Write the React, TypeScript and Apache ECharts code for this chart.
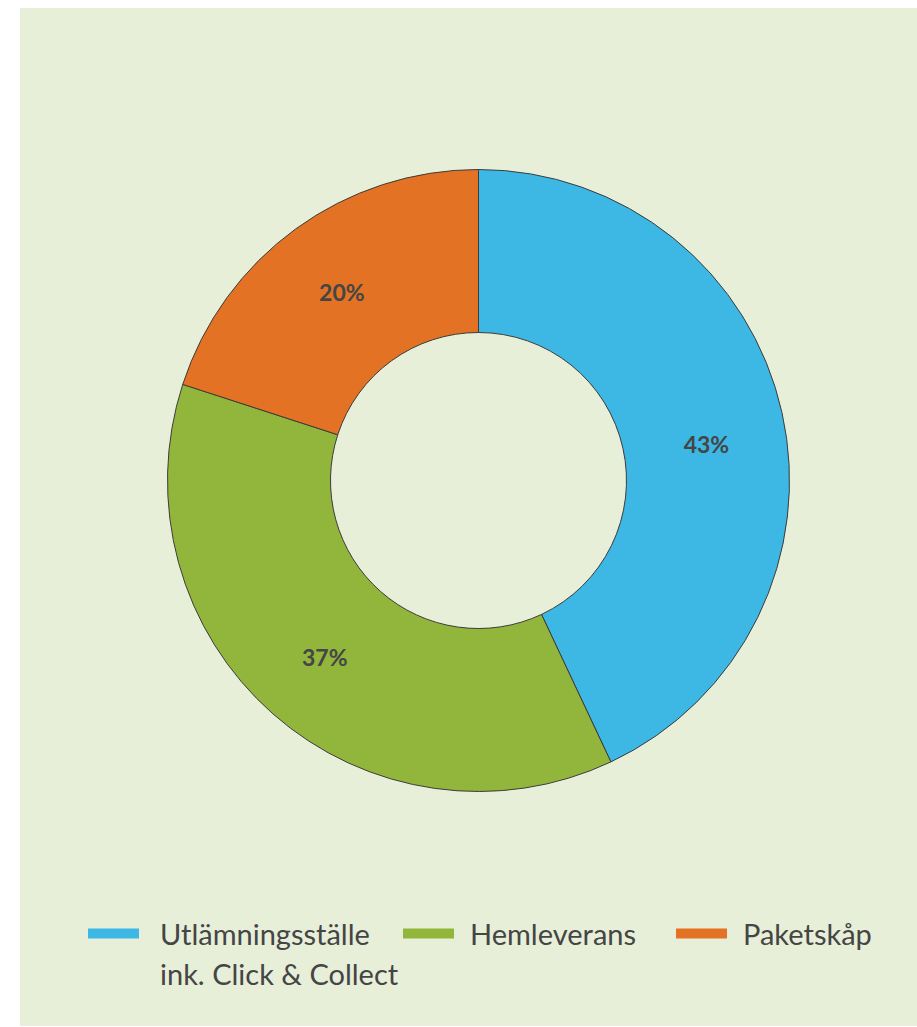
import React, { useEffect, useRef } from "react";
import * as echarts from "echarts";

const categories = ["Utlämningsställe", "Hemleverans", "Paketskåp"];
const values = [43, 37, 20];
const colors = ["#3DB7E4", "#92B53B", "#E37224"];
const legendSecondLine = "ink. Click & Collect";

export default function App() {
  const ref = useRef<HTMLDivElement>(null);
  useEffect(() => {
    if (!ref.current) return;
    const chart = echarts.init(ref.current, null, { renderer: "svg" });
    const font = "Lato, 'Open Sans', sans-serif";
    const legendLefts = [88, 403, 676];
    const legendTextPads = [16, 11, 11];
    const labelOffsets = [[1, 14], [0, 2], [0, 0]];
    chart.setOption({
      animation: false,
      backgroundColor: "#ffffff",
      graphic: [
        {
          type: "rect",
          z: -10,
          shape: { x: 20, y: 8, width: 897, height: 1018 },
          style: { fill: "#E7EFD8" },
        },
        {
          type: "text",
          x: 160,
          y: 973,
          style: {
            text: legendSecondLine,
            fill: "#454545",
            font: `29px ${font}`,
            textVerticalAlign: "middle",
          },
        },
      ],
      legend: categories.map((c, i) => ({
        data: [c],
        left: legendLefts[i],
        top: 919,
        padding: 0,
        icon: "rect",
        itemWidth: 51,
        itemHeight: 10,
        selectedMode: false,
        itemStyle: { borderWidth: 0 },
        textStyle: {
          color: "#454545",
          fontSize: 29,
          fontFamily: font,
          padding: [0, 0, 0, legendTextPads[i]],
        },
      })),
      series: [
        {
          type: "pie",
          center: [478.5, 480.5],
          radius: [148, 311],
          startAngle: 90,
          clockwise: true,
          avoidLabelOverlap: false,
          itemStyle: { borderColor: "#3c3c3c", borderWidth: 1 },
          label: {
            show: true,
            position: "inside",
            formatter: "{c}%",
            color: "#454545",
            fontSize: 23,
            fontWeight: "bold",
            fontFamily: font,
          },
          labelLine: { show: false },
          emphasis: { disabled: true },
          data: categories.map((c, i) => ({
            name: c,
            value: values[i],
            itemStyle: { color: colors[i] },
            label: { offset: labelOffsets[i] },
          })),
        },
      ],
    });
    return () => chart.dispose();
  }, []);
  return (
    <div
      ref={ref}
      style={{ position: "absolute", left: 0, top: 0, width: 917, height: 1027 }}
    />
  );
}
